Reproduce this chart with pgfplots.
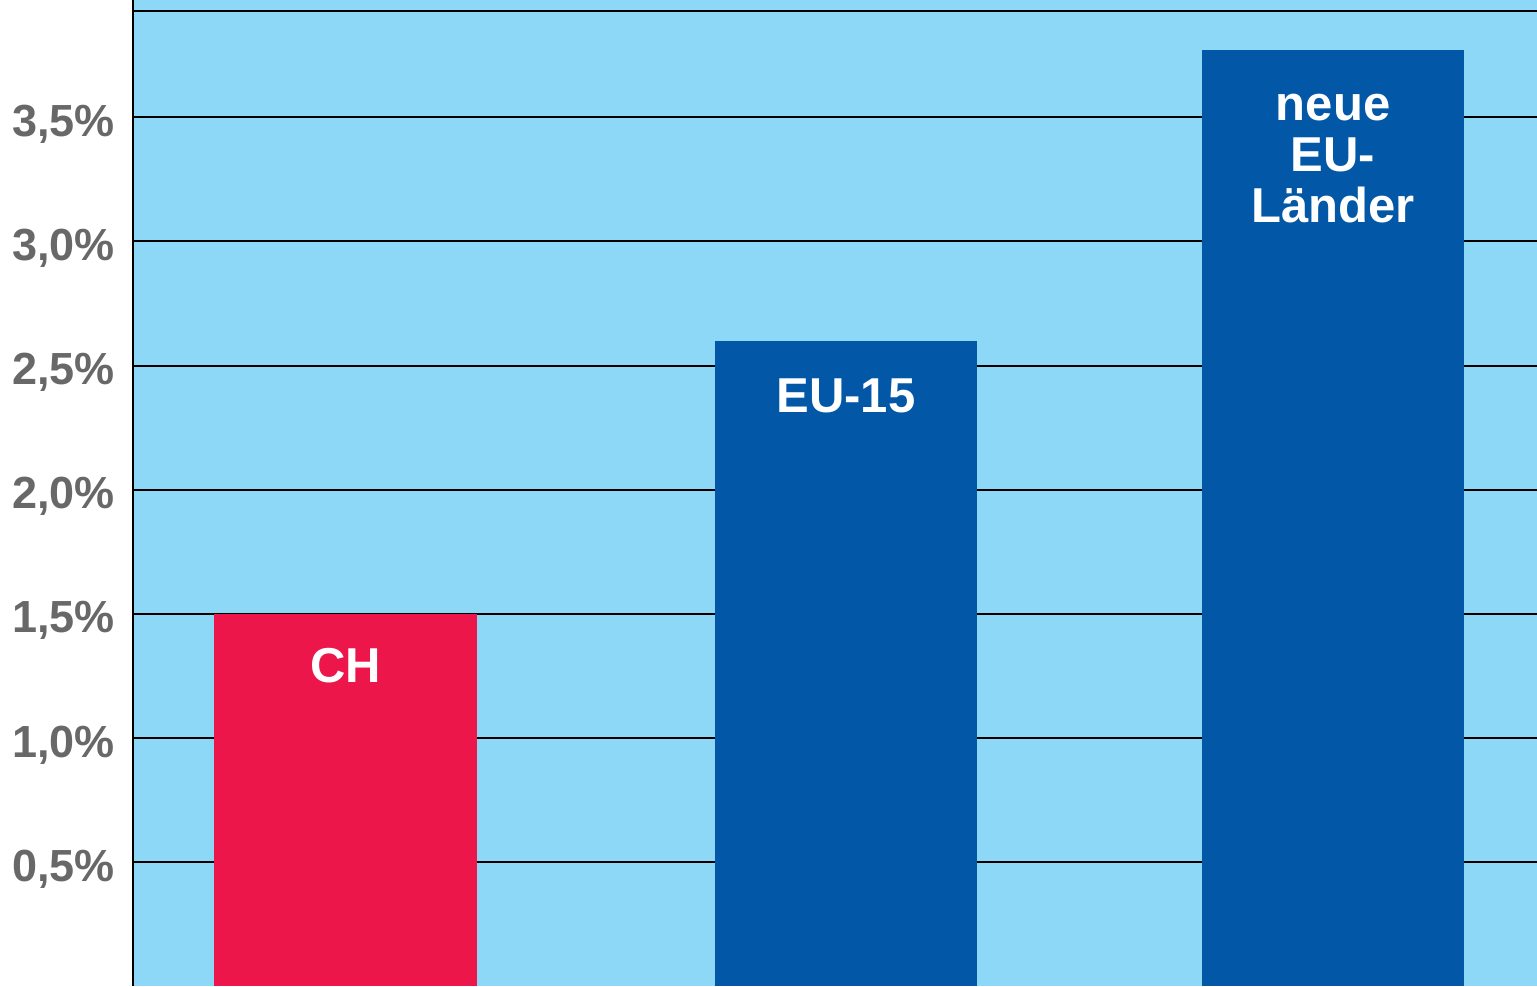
\documentclass[border=0pt]{standalone}
\usepackage{fontspec}
\setmainfont{Liberation Sans}
\usepackage{pgfplots}
\pgfplotsset{compat=1.18}
\definecolor{skybg}{RGB}{141,216,247}
\definecolor{chred}{RGB}{237,22,75}
\definecolor{eublue}{RGB}{2,87,166}
\definecolor{ticktext}{RGB}{104,104,104}

\begin{document}
\begin{tikzpicture}
\begin{axis}[
  name=main,
  scale only axis,
  width=702pt, height=493pt,
  xmin=-0.431, xmax=2.413,
  ymin=0, ymax=3.973,
  axis x line=none,
  axis y line=left,
  axis line style={-, line width=1pt, black},
  axis background/.style={fill=skybg},
  ytick={0.5,1,1.5,2,2.5,3,3.5},
  yticklabels={{0,5\%},{1,0\%},{1,5\%},{2,0\%},{2,5\%},{3,0\%},{3,5\%}},
  extra y ticks={3.93},
  extra y tick labels={},
  ymajorgrids,
  grid style={black, line width=1pt},
  major tick length=0pt,
  yticklabel style={font=\fontsize{22.5}{24}\selectfont\bfseries, text=ticktext, xshift=-5.5pt, yshift=-3.5pt},
  /pgf/number format/assume math mode=true,
  ybar,
  bar width=0.532,
  nodes near coords style={font=\fontsize{24.5}{25.5}\selectfont\bfseries, text=white,
    anchor=north, align=center, inner sep=0pt},
]
\addplot[fill=chred, draw=none, bar shift=0pt,
  nodes near coords={CH},
  every node near coord/.append style={yshift=-17pt}] coordinates {(0,1.5)};
\addplot[fill=eublue, draw=none, bar shift=0pt,
  nodes near coords={EU-15},
  every node near coord/.append style={yshift=-19pt}] coordinates {(1.013,2.60)};
\addplot[fill=eublue, draw=none, bar shift=0pt,
  nodes near coords={neue\\EU-\\Länder},
  every node near coord/.append style={yshift=-21.5pt}] coordinates {(2,3.77)};
\end{axis}
\pgfresetboundingbox
\path[use as bounding box] ([xshift=-66.5pt]main.south west) rectangle (main.north east);
\end{tikzpicture}
\end{document}
